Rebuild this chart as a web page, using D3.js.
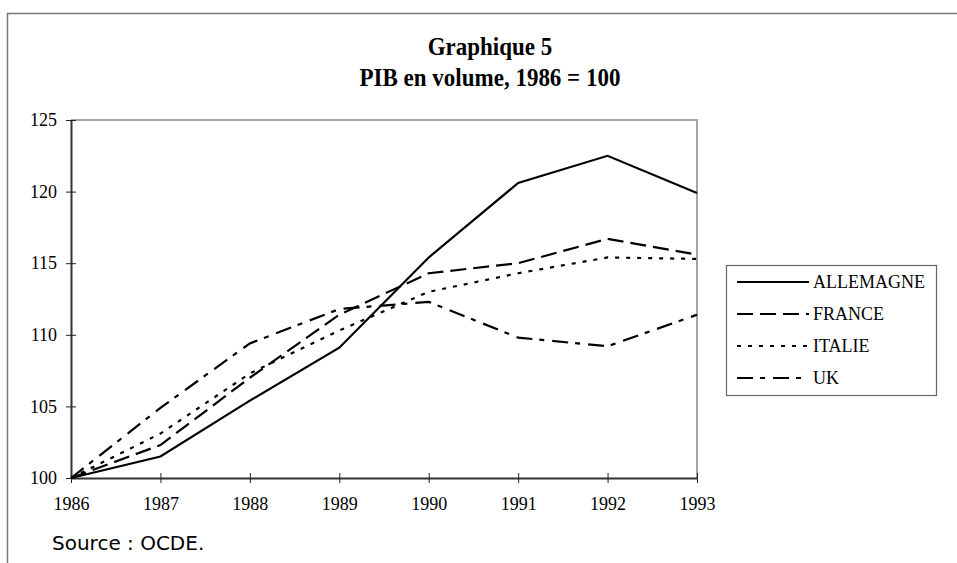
<!DOCTYPE html>
<html>
<head>
<meta charset="utf-8">
<script src="https://cdn.jsdelivr.net/npm/d3@7"></script>
<style>
  body { margin: 0; background: #fff; }
  .tick text { font-family: "Liberation Serif", serif; font-size: 18px; fill: #000; }
</style>
</head>
<body>
<div id="chart"></div>
<script>
// Data (PIB en volume, 1986 = 100)
var years = [1986, 1987, 1988, 1989, 1990, 1991, 1992, 1993];
var allemagne = [100, 101.5, 105.4, 109.1, 115.4, 120.6, 122.5, 119.9];
var france = [100, 102.3, 107.0, 111.4, 114.3, 115.0, 116.7, 115.6];
var italie = [100, 103.1, 107.3, 110.3, 113.0, 114.3, 115.4, 115.3];
var uk = [100, 104.9, 109.4, 111.8, 112.3, 109.8, 109.2, 111.4];
var seriesNames = ["ALLEMAGNE", "FRANCE", "ITALIE", "UK"];
var yTicks = [100, 105, 110, 115, 120, 125];

var series = [
    { name: seriesNames[0], values: allemagne, dash: null },
    { name: seriesNames[1], values: france, dash: "16,7" },
    { name: seriesNames[2], values: italie, dash: "4,7" },
    { name: seriesNames[3], values: uk, dash: "16,7,5,8" }
];

var W = 957, H = 563;
var margin = { top: 120, left: 71 },
    width = 626,
    height = 358;

var svg = d3.select("#chart")
    .append("svg")
    .attr("width", W)
    .attr("height", H);

// outer frame (top and left only are visible)
svg.append("path")
    .attr("d", "M7.5,563 V13.5 H957")
    .attr("fill", "none")
    .attr("stroke", "#777")
    .attr("stroke-width", 1.5);

// titles (slightly condensed bold serif)
svg.append("text")
    .attr("transform", "translate(490,55) scale(0.92,1)")
    .attr("text-anchor", "middle")
    .attr("font-family", "Liberation Serif")
    .attr("font-weight", "bold")
    .attr("font-size", "25px")
    .text("Graphique 5");
svg.append("text")
    .attr("transform", "translate(490,86) scale(0.92,1)")
    .attr("text-anchor", "middle")
    .attr("font-family", "Liberation Serif")
    .attr("font-weight", "bold")
    .attr("font-size", "25px")
    .text("PIB en volume, 1986 = 100");

var g = svg.append("g")
    .attr("transform", "translate(" + margin.left + "," + margin.top + ")");

var x = d3.scaleLinear()
    .domain([years[0], years[years.length - 1]])
    .range([0, width]);

var y = d3.scaleLinear()
    .domain([100, 125])
    .range([height, 0]);

// gray frame top and right
g.append("path")
    .attr("d", "M0," + y(125) + " H" + width + " V" + height)
    .attr("fill", "none")
    .attr("stroke", "#888")
    .attr("stroke-width", 1.5);

var xAxis = d3.axisBottom(x)
    .tickValues(years)
    .tickFormat(d3.format("d"))
    .tickSizeInner(5)
    .tickSizeOuter(0)
    .tickPadding(14);

var yAxis = d3.axisLeft(y)
    .tickValues(yTicks)
    .tickSizeInner(5)
    .tickSizeOuter(0)
    .tickPadding(9);

var gx = g.append("g")
    .attr("transform", "translate(0," + height + ")")
    .call(xAxis);
var gy = g.append("g")
    .call(yAxis);

// ticks cross the axis lines
gx.selectAll(".tick line").attr("y1", -5).attr("y2", 5).attr("stroke", "#222");
gy.selectAll(".tick line").attr("x1", 5).attr("x2", -5).attr("stroke", "#222");
gx.select(".domain").attr("stroke", "#333").attr("stroke-width", 2);
gy.select(".domain").attr("stroke", "#333").attr("stroke-width", 2);

var line = d3.line()
    .x(function(d, i) { return x(years[i]); })
    .y(function(d) { return y(d); });

g.selectAll(".serie")
    .data(series)
    .enter()
    .append("path")
    .attr("class", "serie")
    .attr("d", function(d) { return line(d.values); })
    .attr("fill", "none")
    .attr("stroke", "#000")
    .attr("stroke-width", 2.2)
    .attr("stroke-dasharray", function(d) { return d.dash; });

// legend
var legend = svg.append("g")
    .attr("transform", "translate(726,265)");
legend.append("rect")
    .attr("x", 0.5).attr("y", 0.5)
    .attr("width", 210).attr("height", 130)
    .attr("fill", "#fff")
    .attr("stroke", "#666")
    .attr("stroke-width", 1.2);

var items = legend.selectAll(".item")
    .data(series)
    .enter()
    .append("g")
    .attr("class", "item")
    .attr("transform", function(d, i) { return "translate(0," + (17 + i * 32) + ")"; });

items.append("line")
    .attr("x1", 11).attr("x2", 83)
    .attr("stroke", "#000")
    .attr("stroke-width", 2.2)
    .attr("stroke-dasharray", function(d) { return d.dash; });

items.append("text")
    .attr("x", 87).attr("y", 6)
    .attr("font-family", "Liberation Serif")
    .attr("font-size", "18px")
    .text(function(d) { return d.name; });

// source
svg.append("text")
    .attr("x", 52).attr("y", 550)
    .attr("font-family", "DejaVu Sans")
    .attr("font-size", "20px")
    .text("Source : OCDE.");
</script>
</body>
</html>
